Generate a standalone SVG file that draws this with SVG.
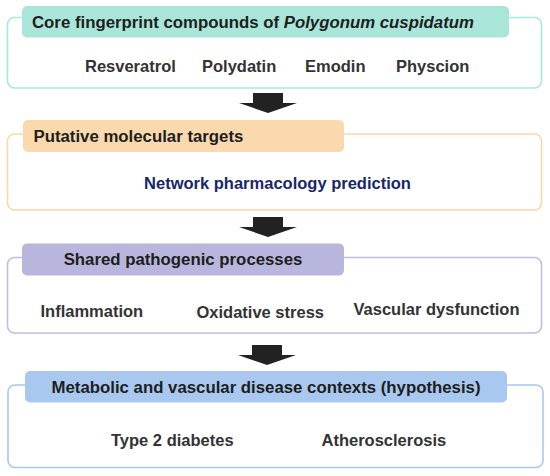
<svg xmlns="http://www.w3.org/2000/svg" width="550" height="476" viewBox="0 0 550 476">
<style>
text{font-family:"Liberation Sans",Arial,sans-serif;font-weight:bold;font-size:16.5px}
.h{fill:#1e1e1e;font-size:16.8px}
.t{fill:#333333}
.nv{fill:#17276b}
.ob{fill:#ffffff;stroke-width:1.6}
.arr{fill:#222222}
</style>
<rect width="550" height="476" fill="#ffffff"/>
<g id="node-compounds">
<rect class="ob" x="7.5" y="17.5" width="534" height="70.5" rx="7" stroke="#a8e8dc"/>
<rect x="22" y="6" width="487" height="31.5" rx="5" fill="#a9e6d9"/>
<text class="h" x="32" y="27.5">Core fingerprint compounds of <tspan font-style="italic">Polygonum cuspidatum</tspan></text>
<text class="t" x="85" y="72">Resveratrol</text>
<text class="t" x="202" y="72">Polydatin</text>
<text class="t" x="305" y="72">Emodin</text>
<text class="t" x="396" y="72">Physcion</text>
</g>
<g id="node-targets">
<rect class="ob" x="7.5" y="134" width="534" height="76" rx="7" stroke="#f8d9aa"/>
<rect x="23" y="120" width="321" height="32" rx="5" fill="#f9d9ad"/>
<text class="h" x="33.5" y="142">Putative molecular targets</text>
<text class="nv" x="277.5" y="189" text-anchor="middle">Network pharmacology prediction</text>
</g>
<g id="node-processes">
<rect class="ob" x="7.5" y="257.5" width="534" height="75.5" rx="7" stroke="#c0bde0"/>
<rect x="22" y="243.5" width="322" height="32" rx="5" fill="#b8b6dc"/>
<text class="h" x="183" y="265" text-anchor="middle">Shared pathogenic processes</text>
<text class="t" x="40.5" y="317">Inflammation</text>
<text class="t" x="196.5" y="318">Oxidative stress</text>
<text class="t" x="353.5" y="315">Vascular dysfunction</text>
</g>
<g id="node-diseases">
<rect class="ob" x="8" y="385" width="535" height="82.5" rx="7" stroke="#a9c8f0"/>
<rect x="25" y="371" width="482" height="31.5" rx="5" fill="#a9c8f0"/>
<text class="h" x="266" y="392.5" text-anchor="middle">Metabolic and vascular disease contexts (hypothesis)</text>
<text class="t" x="111" y="446">Type 2 diabetes</text>
<text class="t" x="321.5" y="446">Atherosclerosis</text>
</g>
<g id="connectors">
<path class="arr" d="M253 93 H283 V103 H297 L268 113 L239 103 H253 Z"/>
<path class="arr" d="M253 217 H283 V227 H297 L268 237 L239 227 H253 Z"/>
<path class="arr" d="M252 345 H282 V355 H296 L267 365 L238 355 H252 Z"/>
</g>
</svg>
